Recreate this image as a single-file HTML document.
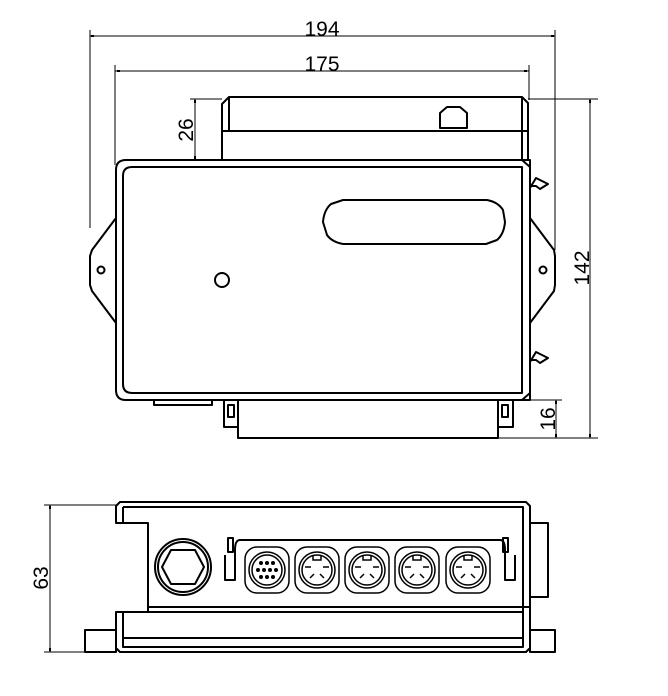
<!DOCTYPE html>
<html><head><meta charset="utf-8"><style>html,body{margin:0;padding:0;background:#fff}svg{display:block}</style></head>
<body>
<svg width="668" height="696" viewBox="0 0 668 696" xmlns="http://www.w3.org/2000/svg" font-family="Liberation Sans, sans-serif">
<g stroke="#000" stroke-width="1" fill="none">
<line x1="90" y1="36" x2="555" y2="36"/><line x1="90" y1="30" x2="90" y2="228"/><line x1="555" y1="30" x2="555" y2="250"/>
<line x1="115" y1="71" x2="529" y2="71"/><line x1="115" y1="65" x2="115" y2="165"/><line x1="529" y1="65" x2="529" y2="100"/>
<line x1="195" y1="99" x2="195" y2="160"/><line x1="190" y1="99" x2="222" y2="99"/>
<line x1="590" y1="99" x2="590" y2="438"/><line x1="528" y1="99" x2="598" y2="99"/><line x1="498" y1="438" x2="598" y2="438"/>
<line x1="556" y1="400" x2="556" y2="438"/><line x1="530" y1="400" x2="562" y2="400"/>
<line x1="50" y1="505" x2="50" y2="652"/><line x1="44" y1="505" x2="118" y2="505"/><line x1="44" y1="652" x2="86" y2="652"/>
</g>
<g fill="#000">
<rect x="91" y="35" width="3" height="2"/><rect x="551" y="35" width="3" height="2"/>
<rect x="117" y="70" width="3" height="2"/><rect x="524" y="70" width="3" height="2"/>
<rect x="194" y="100" width="2" height="3"/><rect x="194" y="156" width="2" height="3"/>
<rect x="589" y="100" width="2" height="3"/><rect x="589" y="434" width="2" height="3"/>
<rect x="555" y="401" width="2" height="3"/><rect x="555" y="434" width="2" height="3"/>
<rect x="49" y="506" width="2" height="3"/><rect x="49" y="648" width="2" height="3"/>
</g>
<g font-size="21" fill="#000" text-anchor="middle">
<text x="322" y="36">194</text>
<text x="322" y="71">175</text>
<text transform="translate(193,130) rotate(-90)">26</text>
<text transform="translate(589,268) rotate(-90)">142</text>
<text transform="translate(555,419) rotate(-90)">16</text>
<text transform="translate(48,578) rotate(-90)">63</text>
</g>
<g stroke="#000" stroke-width="2" fill="none" stroke-linejoin="round">
<path d="M222,160 V104 L229,97 H522 L528,103 V160"/>
<line x1="229" y1="97" x2="229" y2="131"/><line x1="222" y1="131" x2="528" y2="131"/>
<line x1="522" y1="97" x2="522" y2="160"/>
<path d="M440,128 V113 L447,107 H460 L467,113 V128 Z"/>
<path d="M116,218 L92,250 L90,256 V285 L92,291 L116,323"/>
<path d="M530,218 L554,250 L555,256 V285 L554,291 L530,323"/>
<circle cx="101" cy="270" r="3.5"/><circle cx="543" cy="270" r="3.5"/>
<path d="M126,160 H530 V400 H126 Q116,400 116,390 V170 Q116,160 126,160 Z"/>
<path d="M132,167 H522 V393 H132 Q123,393 123,384 V176 Q123,167 132,167 Z"/>
<line x1="522" y1="160" x2="530" y2="167"/><line x1="522" y1="400" x2="530" y2="393"/>
<path d="M530,188 L536,178 L548,184 L540,189 L536,186 H530"/>
<path d="M530,362 L536,352 L548,358 L540,363 L536,360 H530"/>
<path d="M343,200 H487 Q498,202 503,210 L505,222 Q504,234 497,240 L486,244 H343 Q332,242 327,235 L323,222 Q324,210 331,204 Z"/>
<circle cx="222" cy="280" r="7"/>
<rect x="154" y="400" width="58" height="5"/>
<rect x="238" y="400" width="260" height="38"/>
<path d="M238,400 H224 V427 H238"/><rect x="228" y="405" width="6" height="12"/>
<path d="M498,400 H513 V427 H498"/><rect x="502" y="405" width="6" height="12"/>
<path d="M120,502 H526 L530,506 V648 L526,652 H120 L116,648 V612 H148 V523 H116 V506 Z"/>
<path d="M123,507 H523 V647 H123 V612 M123,507 V523"/>
<line x1="148" y1="607" x2="530" y2="607"/><line x1="123" y1="612" x2="523" y2="612"/>
<line x1="123" y1="638" x2="523" y2="638"/>
<rect x="85" y="630" width="31" height="22"/><rect x="530" y="630" width="25" height="22"/>
<rect x="530" y="523" width="18" height="74"/>
<circle cx="183" cy="567" r="28"/><circle cx="183" cy="567" r="25"/>
<path d="M171,550 H195 L204,567 L195,584 H171 L162,567 Z"/>
<path d="M240,540 H500 Q505,540 505,550 V580 H515 V555 M240,540 Q235,540 235,550 V580 H225 V555"/>
<line x1="225" y1="556" x2="225" y2="580"/>
<rect x="228" y="538" width="5" height="14"/><rect x="503" y="538" width="5" height="14"/>
</g>
<g stroke="#000" stroke-width="1.5" fill="none">
<g transform="translate(267,570)"><rect x="-22" y="-23" width="44" height="46" rx="12"/><circle r="18"/><circle r="15"/>
<g fill="#000" stroke="none"><circle cx="-6" cy="-7" r="2"/><circle cx="0" cy="-7" r="2"/><circle cx="6" cy="-7" r="2"/><circle cx="-9" cy="0" r="2"/><circle cx="-3" cy="0" r="2"/><circle cx="3" cy="0" r="2"/><circle cx="9" cy="0" r="2"/><circle cx="-6" cy="7" r="2"/><circle cx="0" cy="7" r="2"/><circle cx="6" cy="7" r="2"/></g></g>
<g transform="translate(317,570)"><rect x="-22" y="-23" width="44" height="46" rx="12"/><circle r="18"/><circle r="15"/><path d="M-4,-15 V-10 H4 V-15 M-12,-3 H-6 M6,-3 H12 M-7,8 L-3,4 M7,8 L3,4"/></g>
<g transform="translate(367,570)"><rect x="-22" y="-23" width="44" height="46" rx="12"/><circle r="18"/><circle r="15"/><path d="M-4,-15 V-10 H4 V-15 M-12,-3 H-6 M6,-3 H12 M-7,8 L-3,4 M7,8 L3,4"/></g>
<g transform="translate(417,570)"><rect x="-22" y="-23" width="44" height="46" rx="12"/><circle r="18"/><circle r="15"/><path d="M-4,-15 V-10 H4 V-15 M-12,-3 H-6 M6,-3 H12 M-7,8 L-3,4 M7,8 L3,4"/></g>
<g transform="translate(468,570)"><rect x="-22" y="-23" width="44" height="46" rx="12"/><circle r="18"/><circle r="15"/><path d="M-4,-15 V-10 H4 V-15 M-12,-3 H-6 M6,-3 H12 M-7,8 L-3,4 M7,8 L3,4"/></g>
</g>
</svg>
</body></html>
